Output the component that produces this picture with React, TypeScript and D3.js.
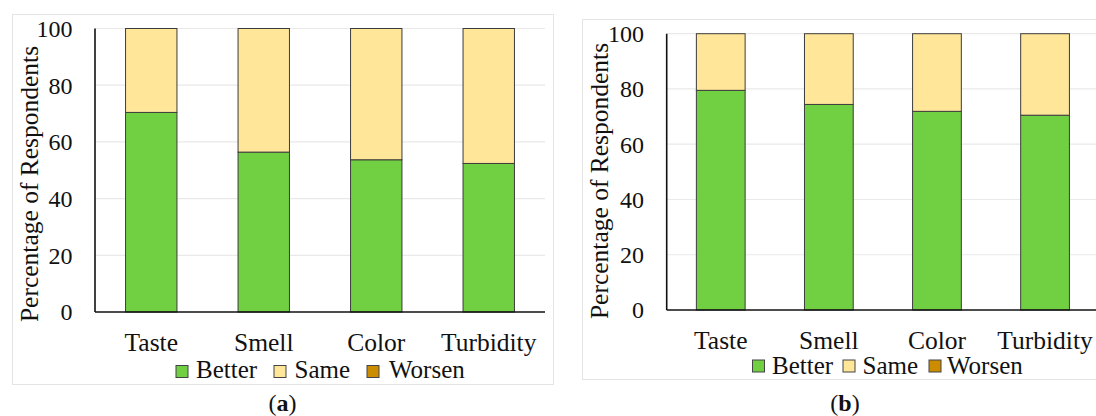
import React from "react";
import * as d3 from "d3";

const categories = ["Taste", "Smell", "Color", "Turbidity"];
const seriesKeys = ["Better", "Same", "Worsen"];
const betterA = [70.4, 56.4, 53.7, 52.4];
const sameA = [29.6, 43.6, 46.3, 47.6];
const worsenA = [0, 0, 0, 0];
const betterB = [79.5, 74.4, 71.9, 70.5];
const sameB = [20.5, 25.6, 28.1, 29.5];
const worsenB = [0, 0, 0, 0];
const yTicks = [0, 20, 40, 60, 80, 100];
const colors = ["#70D042", "#FFE699", "#CC8C00"];
const FONT = "Liberation Serif";

type Layout = {
  border: [number, number, number, number];
  x0: number; x1: number; y0: number; y100: number; pad: number;
  tickX: number; titleX: number; titleY: number;
  xLabelY: number;
  legSq: number[]; legText: number[]; legSqY: number; legBase: number;
  capX: number; capY: number; cap: string;
};

function Panel({ better, same, worsen, L }: { better: number[]; same: number[]; worsen: number[]; L: Layout }) {
  const rows = categories.map((c, i) => ({ cat: c, Better: better[i], Same: same[i], Worsen: worsen[i] }));
  const stacked = d3.stack<any>().keys(seriesKeys)(rows);
  const x = d3.scaleBand().domain(categories).range([L.x0, L.x1]).paddingInner(L.pad).paddingOuter(L.pad / 2);
  const y = d3.scaleLinear().domain([0, 100]).range([L.y0, L.y100]);
  const [bx, by, bw, bh] = L.border;
  const ts = { fontFamily: FONT };
  return (
    <g>
      <rect x={bx} y={by} width={bw} height={bh} fill="#fff" stroke="#e4e4e4" strokeWidth={1} />
      {yTicks.filter((t) => t > 0).map((t) => (
        <line key={t} x1={L.x0} x2={L.x1} y1={y(t)} y2={y(t)} stroke="#e9e9e9" strokeWidth={1.2} />
      ))}
      {stacked.map((s, si) =>
        s.map((d, i) =>
          d[1] - d[0] > 0 ? (
            <rect key={si + "-" + i} x={x(categories[i])} y={y(d[1])} width={x.bandwidth()} height={y(d[0]) - y(d[1])}
              fill={colors[si]} stroke="#3c3c3c" strokeWidth={1} />
          ) : null
        )
      )}
      <line x1={L.x0} x2={L.x0} y1={y(100)} y2={y(0)} stroke="#111" strokeWidth={1.6} />
      <line x1={L.x0} x2={L.x1} y1={y(0)} y2={y(0)} stroke="#111" strokeWidth={1.6} />
      {yTicks.map((t) => (
        <text key={t} x={L.tickX} y={y(t)} dy="0.35em" textAnchor="end" fontSize={24} style={ts} fill="#111">{t}</text>
      ))}
      <text transform={`translate(${L.titleX},${L.titleY}) rotate(-90)`} textAnchor="middle" fontSize={25.5} style={ts} fill="#111">
        Percentage of Respondents
      </text>
      {categories.map((c) => (
        <text key={c} x={(x(c) as number) + x.bandwidth() / 2} y={L.xLabelY} textAnchor="middle" fontSize={25.5} style={ts} fill="#111">{c}</text>
      ))}
      {seriesKeys.map((k, i) => (
        <g key={k}>
          <rect x={L.legSq[i]} y={L.legSqY} width={12} height={12} fill={colors[i]} stroke="#444" strokeWidth={1} />
          <text x={L.legText[i]} y={L.legBase} fontSize={25} style={ts} fill="#111">{k}</text>
        </g>
      ))}
      <text x={L.capX} y={L.capY} textAnchor="middle" fontSize={24} style={ts} fill="#111">
        (<tspan fontWeight="bold">{L.cap}</tspan>)
      </text>
    </g>
  );
}

const layoutA: Layout = {
  border: [12.5, 14.5, 541, 370],
  x0: 95, x1: 545, y0: 312, y100: 28.5, pad: 0.543,
  tickX: 72.5, titleX: 37.5, titleY: 184,
  xLabelY: 351,
  legSq: [176, 274, 367], legText: [196, 294.5, 389], legSqY: 365.5, legBase: 378,
  capX: 282.5, capY: 411, cap: "a",
};
const layoutB: Layout = {
  border: [582.5, 19.5, 560, 360],
  x0: 666.7, x1: 1099.1, y0: 310, y100: 33.7, pad: 0.549,
  tickX: 644, titleX: 608, titleY: 181,
  xLabelY: 348.5,
  legSq: [752.5, 843, 929], legText: [772, 862.5, 947], legSqY: 360, legBase: 374,
  capX: 845, capY: 411, cap: "b",
};

export default function App() {
  return (
    <svg width={1096} height={416} style={{ position: "absolute", left: 0, top: 0, background: "#fff" }}>
      <rect x={0} y={0} width={1096} height={416} fill="#fff" />
      <Panel better={betterA} same={sameA} worsen={worsenA} L={layoutA} />
      <Panel better={betterB} same={sameB} worsen={worsenB} L={layoutB} />
    </svg>
  );
}
